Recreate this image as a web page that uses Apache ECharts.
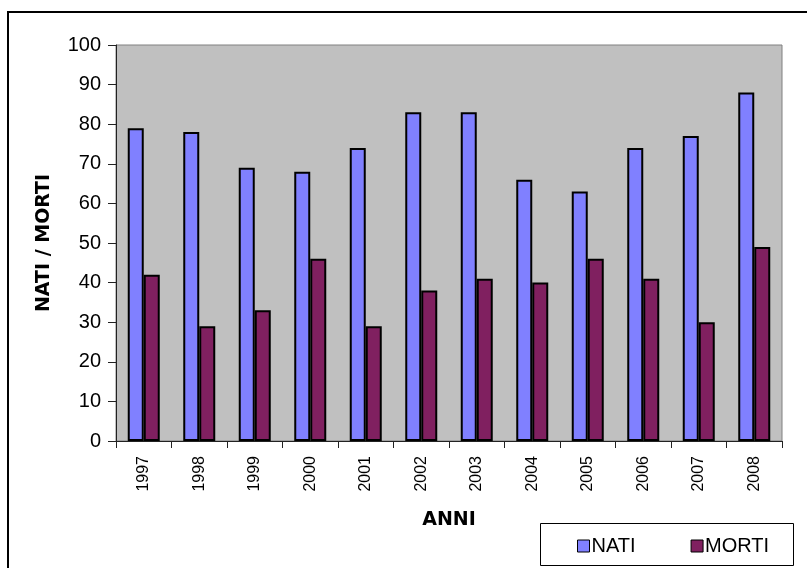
<!DOCTYPE html>
<html>
<head>
<meta charset="utf-8">
<script src="https://cdn.jsdelivr.net/npm/echarts@6/dist/echarts.min.js"></script>
<style>
  html, body { margin: 0; padding: 0; background: #ffffff; }
  #chart { width: 807px; height: 568px; }
</style>
</head>
<body>
<div id="chart"></div>
<script>
// Births and deaths per year
const anni = ['1997', '1998', '1999', '2000', '2001', '2002', '2003', '2004', '2005', '2006', '2007', '2008'];
const nati = [79, 78, 69, 68, 74, 83, 83, 66, 63, 74, 77, 88];
const morti = [42, 29, 33, 46, 29, 38, 41, 40, 46, 41, 30, 49];
const yTicks = { min: 0, max: 100, interval: 10 };

const chart = echarts.init(document.getElementById('chart'), null, { renderer: 'canvas' });

const axisColor = '#222222';
const labelFont = 'Liberation Sans, Arial, sans-serif';
const titleFont = 'DejaVu Sans, sans-serif';

chart.setOption({
  animation: false,
  backgroundColor: '#ffffff',
  grid: {
    left: 116, right: 25, top: 45, bottom: 127,
    show: true,
    backgroundColor: '#c0c0c0',
    borderColor: '#808080',
    borderWidth: 1
  },
  legend: {
    left: 572, top: 531,
    itemWidth: 12, itemHeight: 12,
    itemGap: 55,
    icon: 'rect',
    itemStyle: { borderColor: '#000000', borderWidth: 1 },
    textStyle: { fontFamily: labelFont, fontSize: 20, color: '#000000', lineHeight: 20, padding: [0, 0, 0, -3] },
    data: ['NATI', 'MORTI']
  },
  graphic: [
    {
      type: 'rect', silent: true,
      shape: { x: 8, y: 12, width: 900, height: 700 },
      style: { fill: 'none', stroke: '#000000', lineWidth: 2 }
    },
    {
      type: 'rect', silent: true,
      shape: { x: 540.5, y: 523.5, width: 253, height: 42 },
      style: { fill: '#ffffff', stroke: '#000000', lineWidth: 1 },
      z: -1
    }
  ],
  xAxis: {
    type: 'category',
    data: anni,
    name: 'ANNI',
    nameLocation: 'middle',
    nameGap: 70,
    nameTextStyle: { fontFamily: titleFont, fontWeight: 'bold', fontSize: 19, color: '#000000' },
    axisLine: { lineStyle: { color: axisColor, width: 1 } },
    axisTick: { show: true, length: 7, lineStyle: { color: axisColor } },
    axisLabel: { rotate: 90, margin: 15, fontFamily: labelFont, fontSize: 16, color: '#000000' }
  },
  yAxis: {
    type: 'value',
    min: yTicks.min, max: yTicks.max, interval: yTicks.interval,
    name: 'NATI / MORTI',
    nameLocation: 'middle',
    nameRotate: 90,
    nameGap: 62,
    nameTextStyle: { fontFamily: titleFont, fontWeight: 'bold', fontSize: 19, color: '#000000' },
    splitLine: { show: false },
    axisLine: { show: true, lineStyle: { color: axisColor, width: 1 } },
    axisTick: { show: true, length: 8, lineStyle: { color: axisColor } },
    axisLabel: { margin: 15, fontFamily: labelFont, fontSize: 20, color: '#000000' }
  },
  series: [
    {
      name: 'NATI', type: 'bar', data: nati,
      barWidth: 16, barGap: '0%',
      itemStyle: { color: '#8080ff', borderColor: '#000000', borderWidth: 2 }
    },
    {
      name: 'MORTI', type: 'bar', data: morti,
      barWidth: 16, barGap: '0%',
      itemStyle: { color: '#802060', borderColor: '#000000', borderWidth: 2 }
    }
  ]
});
</script>
</body>
</html>
